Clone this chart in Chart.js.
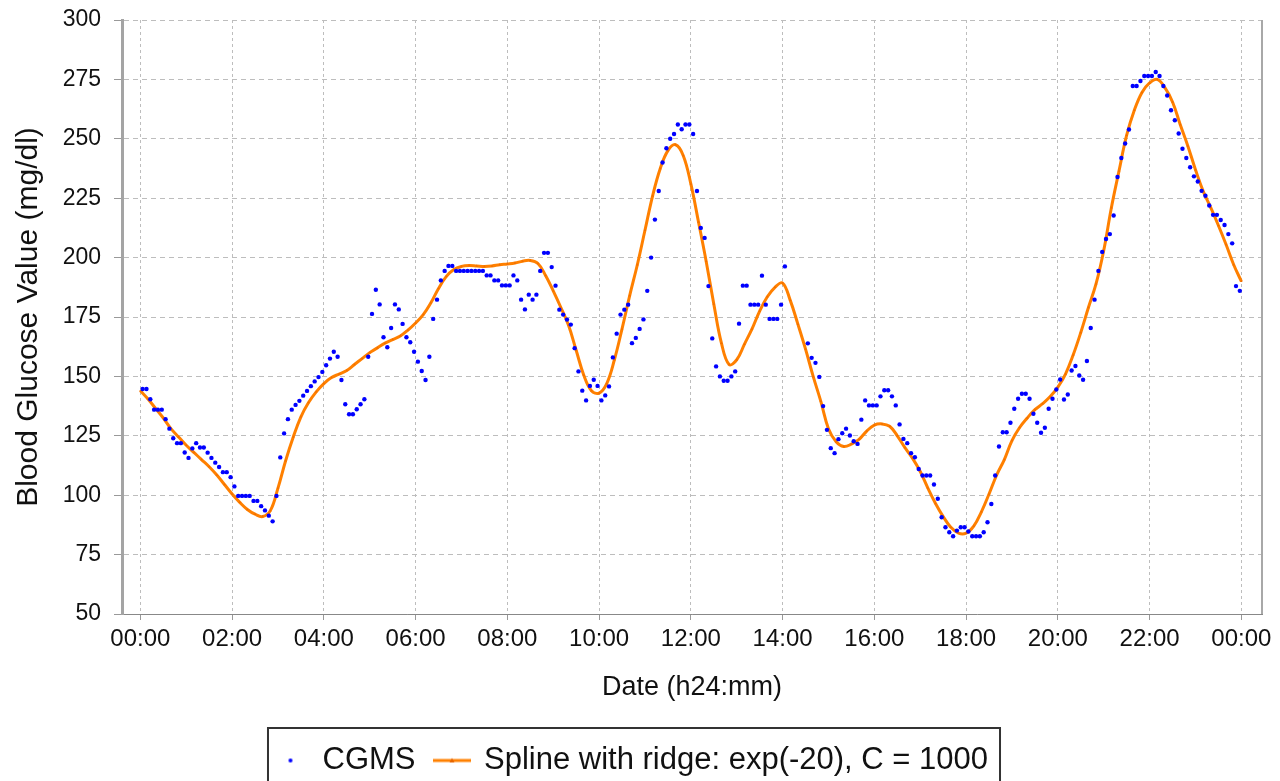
<!DOCTYPE html>
<html>
<head>
<meta charset="utf-8">
<title>CGMS vs ridge spline</title>
<script src="https://cdn.jsdelivr.net/npm/chart.js@4.4.0/dist/chart.umd.min.js"></script>
<style>
  html, body { margin: 0; padding: 0; background: #fff; }
  #wrap { width: 1280px; height: 781px; }
</style>
</head>
<body>
<div id="wrap"><canvas id="myChart"></canvas></div>
<script>
// CGMS readings, one every 5 minutes (first one at 00:03)
const cgmsStartMin = 3;
const cgmsStepMin = 5;
const cgmsValues = [
  144.7, 144.7, 140.4, 136, 136, 136, 132, 128, 124, 121.9, 121.9, 118,          // 00h
  115.7, 119.7, 121.9, 120.1, 120.1, 117.9, 115.7, 113.7, 111.9, 109.7, 109.7, 107.6, // 01h
  103.7, 99.7, 99.7, 99.7, 99.7, 97.6, 97.6, 95.4, 93.6, 91.4, 89, 99.7,        // 02h
  115.9, 126, 132, 136, 138, 139.7, 141.9, 143.9, 145.9, 147.9, 149.7, 151.9,   // 03h
  154.7, 157.5, 160.4, 158.3, 148.5, 138.3, 134.1, 134.1, 136.2, 138.3, 140.4, 158.3, // 04h
  176.3, 186.5, 180.3, 166.5, 162.3, 170.4, 180.3, 178.2, 172.1, 166.5, 164.4, 160.4, // 05h
  156.2, 152.3, 148.5, 158.3, 174.2, 182.3, 190.4, 194.4, 196.5, 196.5, 194.4, 194.4, // 06h
  194.4, 194.4, 194.4, 194.4, 194.4, 194.4, 192.5, 192.5, 190.4, 190.4, 188.3, 188.3, // 07h
  188.3, 192.5, 190.4, 182.3, 178.2, 184.4, 182.3, 184.4, 194.4, 202, 202, 196, // 08h
  188.2, 178.1, 176, 173.9, 171.8, 161.9, 152.1, 144, 139.9, 146, 148.6, 146,   // 09h
  139.9, 142, 145.8, 158, 168, 176, 178.1, 180.2, 164, 166.2, 170, 174,         // 10h
  186, 200, 216, 228, 240, 246, 250, 252, 256, 254, 256, 256,                   // 11h
  252, 228, 212.5, 208.3, 188, 166, 154.2, 150, 148.2, 148.2, 150, 152.1,       // 12h
  172.2, 188.2, 188.2, 180.2, 180.2, 180.2, 192.4, 180.2, 174.2, 174.2, 174.2, 180.2, // 13h
  196.3, null, null, null, null, null, 163.9, 157.8, 155.7, 149.8, 137.5, 127.5, // 14h
  119.8, 117.7, 123.6, 126.1, 128, 125.1, 122.7, 121.6, 131.8, 139.9, 137.8, 137.8, // 15h
  137.8, 141.6, 144.2, 144.2, 141.6, 137.8, 129.8, 123.7, 121.9, 117.7, 116, 111, // 16h
  108.3, 108.3, 108.3, 104.5, 98.5, 90.7, 86.5, 84.4, 82.7, 85.1, 86.5, 86.5,   // 17h
  84.7, 82.7, 82.7, 82.7, 84.4, 88.6, 96.3, 108.3, 120.5, 126.5, 126.5, 130.5,  // 18h
  136.4, 140.6, 142.7, 142.7, 140.6, 134.3, 130.5, 126.3, 128.4, 136.4, 140.6, 144.5, // 19h
  148.7, 140.3, 142.4, 152.5, 154.4, 150.4, 148.6, 156.5, 170.4, 182.3, 194.4, 202.4, // 20h
  207.8, 209.9, 217.7, 233.9, 241.9, 248, 253.9, 272.2, 272.2, 274.3, 276.4, 276.4, // 21h
  276.4, 278.1, 276.4, 272.2, 268.2, 262, 257.8, 252.2, 245.8, 241.9, 238, 234.2, // 22h
  232, 228.1, 226, 221.9, 218, 218, 215.8, 213.7, 209.9, 206, 188, 186          // 23h
];

// ridge spline, one value every 10 minutes from 00:00 to 24:00
const splineStepMin = 10;
const splineValues = [
  144, 140.5, 136.5, 132.5, 128, 124.5,
  121, 118, 115, 112, 108.5, 104.5,
  100.5, 97, 94, 92, 91, 93.5,
  103, 114.5, 124.5, 133, 139, 143.5,
  147, 149.5, 151, 152.5, 155, 157.5,
  160, 162, 164, 165.5, 167, 169.5,
  172.5, 176, 181, 187, 192, 195,
  196.3, 196.7, 196.5, 196.3, 196.5, 197,
  197.3, 197.7, 198.5, 198.8, 197.5, 192.5,
  186, 179, 171.5, 161, 150.5, 144,
  143, 147, 157, 170, 184, 197,
  211.5, 226, 237.5, 245, 247.5, 243,
  231, 215, 198.5, 180.5, 164, 155,
  157, 163.5, 170, 177.5, 183.5, 187.5,
  189.3, 182, 172, 161.5, 150, 139.5,
  128, 122.5, 120.5, 121.5, 123.5, 127,
  129.5, 130, 129, 125, 120, 115.5,
  110, 103, 96.5, 91, 86.5, 84,
  84, 87, 93, 100.5, 108.5, 115,
  123, 128.5, 132.5, 136, 138.5, 141.5,
  145.5, 151, 159, 168.5, 179, 189,
  203, 221, 236.5, 251.5, 262, 269.5,
  273.5, 275, 271.5, 265.5, 256, 247,
  237, 228, 221, 213.5, 205.5, 197,
  190
];

const xTickValues = [0, 2, 4, 6, 8, 10, 12, 14, 16, 18, 20, 22, 24];
const xTickLabels = ['00:00', '02:00', '04:00', '06:00', '08:00', '10:00', '12:00',
                     '14:00', '16:00', '18:00', '20:00', '22:00', '00:00'];
const yTicks = [50, 75, 100, 125, 150, 175, 200, 225, 250, 275, 300];

const blue = 'rgb(0,0,255)';
const orange = 'rgb(255,128,0)';
const fontFamily = '"Liberation Sans", Arial, sans-serif';

const cgmsPoints = cgmsValues.map(function (v, i) {
  return { x: (cgmsStartMin + i * cgmsStepMin) / 60, y: v };
});
const splinePoints = splineValues.map(function (v, k) {
  return { x: (k * splineStepMin) / 60, y: v };
});

// small pictures for the legend symbols
function legendDot() {
  const c = document.createElement('canvas');
  c.width = 6; c.height = 6;
  const g = c.getContext('2d');
  g.fillStyle = blue;
  g.beginPath();
  g.arc(3, 3, 2, 0, Math.PI * 2);
  g.fill();
  return c;
}
function legendLine() {
  const c = document.createElement('canvas');
  c.width = 38; c.height = 8;
  const g = c.getContext('2d');
  g.strokeStyle = orange;
  g.lineWidth = 3;
  g.beginPath();
  g.moveTo(0, 4);
  g.lineTo(38, 4);
  g.stroke();
  g.fillStyle = 'rgb(230,100,0)';
  g.beginPath();
  g.moveTo(19, 1.5);
  g.lineTo(21.5, 6);
  g.lineTo(16.5, 6);
  g.closePath();
  g.fill();
  return c;
}
const dotImg = legendDot();
const lineImg = legendLine();

// right frame line and the box round the legend
const frameBox = {
  id: 'frameBox',
  afterDraw(chart) {
    const ctx = chart.ctx;
    const a = chart.chartArea;
    ctx.save();
    ctx.strokeStyle = '#a8a8a8';
    ctx.lineWidth = 2;
    ctx.beginPath();
    ctx.moveTo(a.right, a.top);
    ctx.lineTo(a.right, a.bottom);
    ctx.stroke();

    const boxes = chart.legend.legendHitBoxes;
    if (boxes && boxes.length) {
      const first = boxes[0];
      const last = boxes[boxes.length - 1];
      const left = first.left - 6;
      const right = last.left + last.width + 12;
      ctx.strokeStyle = '#333';
      ctx.lineWidth = 2;
      ctx.strokeRect(left, 728, right - left, 80);
    }
    ctx.restore();
  }
};

const ctx = document.getElementById('myChart');
new Chart(ctx, {
  type: 'scatter',
  data: {
    datasets: [{
      label: 'CGMS',
      data: cgmsPoints,
      showLine: false,
      pointRadius: 2.2,
      pointHoverRadius: 2.2,
      pointBackgroundColor: blue,
      pointBorderWidth: 0,
      backgroundColor: blue,
      borderColor: blue
    }, {
      type: 'line',
      label: 'Spline with ridge: exp(-20), C = 1000',
      data: splinePoints,
      showLine: true,
      borderColor: orange,
      backgroundColor: orange,
      borderWidth: 3,
      tension: 0.4,
      pointStyle: 'triangle',
      pointRadius: 1.5,
      pointBorderWidth: 0,
      pointBackgroundColor: 'rgb(240,110,0)',
      fill: false
    }]
  },
  options: {
    responsive: true,
    maintainAspectRatio: false,
    animation: false,
    layout: { padding: { top: 20, right: 18, left: 0, bottom: -5 } },
    plugins: {
      tooltip: { enabled: false },
      legend: {
        position: 'bottom',
        labels: {
          usePointStyle: true,
          pointStyleWidth: 33,
          boxHeight: 8,
          padding: 20,
          color: '#111',
          font: { family: fontFamily, size: 31 },
          generateLabels(chart) {
            const items = Chart.defaults.plugins.legend.labels.generateLabels(chart);
            items[0].pointStyle = dotImg;
            items[1].pointStyle = lineImg;
            return items;
          }
        }
      }
    },
    scales: {
      x: {
        type: 'linear',
        min: -0.4,
        max: 24.45,
        afterBuildTicks(scale) {
          scale.ticks = xTickValues.map(function (v) { return { value: v }; });
        },
        afterFit(scale) { scale.height = 111; },
        ticks: {
          autoSkip: false,
          maxRotation: 0,
          padding: 5,
          color: '#111',
          font: { family: fontFamily, size: 24 },
          callback(value) { return xTickLabels[xTickValues.indexOf(value)]; }
        },
        grid: {
          color: '#bdbdbd',
          lineWidth: 1,
          tickLength: 6,
          tickColor: '#999'
        },
        border: { display: true, color: '#888', width: 1, dash: [3, 3] },
        title: {
          display: true,
          text: 'Date (h24:mm)',
          color: '#111',
          font: { family: fontFamily, size: 27 },
          padding: { top: 0, bottom: 21 }
        }
      },
      y: {
        min: 50,
        max: 300,
        afterBuildTicks(scale) {
          scale.ticks = yTicks.map(function (v) { return { value: v }; });
        },
        afterFit(scale) { scale.width = 122; },
        ticks: {
          padding: 13,
          color: '#111',
          font: { family: fontFamily, size: 23, lineHeight: 0.6 }
        },
        grid: {
          color: '#bdbdbd',
          lineWidth: 1,
          tickLength: 8,
          tickColor: '#999'
        },
        border: { display: true, color: '#a4a4a4', width: 3, dash: [5, 4] },
        title: {
          display: true,
          text: 'Blood Glucose Value (mg/dl)',
          color: '#111',
          font: { family: fontFamily, size: 30 },
          padding: { top: 11, bottom: 0 }
        }
      }
    }
  },
  plugins: [frameBox]
});
</script>
</body>
</html>
